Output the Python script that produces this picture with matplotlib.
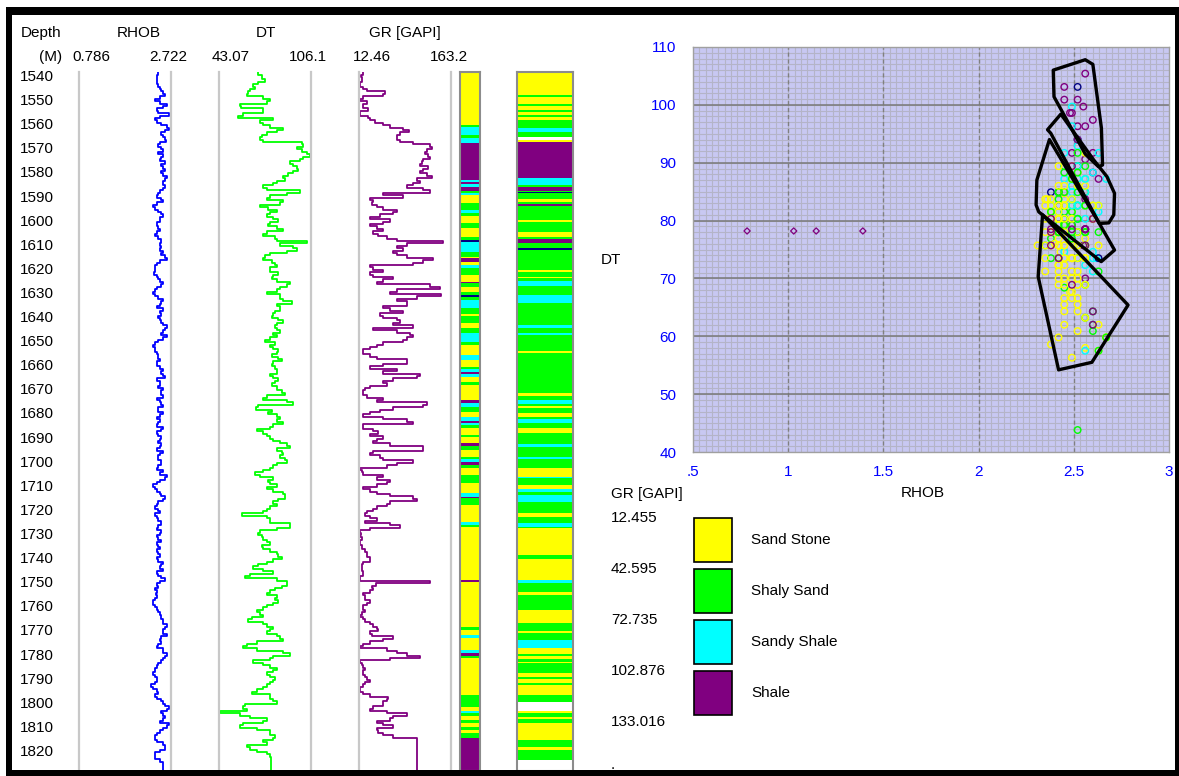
import numpy as np
import matplotlib
matplotlib.use("Agg")
import matplotlib.pyplot as plt
from matplotlib.patches import Rectangle, Polygon

plt.rcParams['font.family'] = ['Liberation Sans', 'DejaVu Sans']

# ---------------------------------------------------------------- log data
depth = np.arange(1538, 1829)          # 1 m samples, 1538 .. 1828 m

rhob = [2.45, 2.42, 2.42, 2.43, 2.42, 2.45, 2.48, 2.52, 2.56, 2.60,
        2.49, 2.38, 2.50, 2.63, 2.56, 2.42, 2.45, 2.67, 2.49, 2.38,
        2.42, 2.52, 2.63, 2.67, 2.60, 2.52, 2.56, 2.60, 2.62, 2.49,
        2.45, 2.52, 2.55, 2.45, 2.56, 2.52, 2.48, 2.60, 2.52, 2.56,
        2.60, 2.52, 2.56, 2.63, 2.60, 2.56, 2.56, 2.60, 2.55, 2.49,
        2.45, 2.42, 2.52, 2.56, 2.42, 2.35, 2.38, 2.45, 2.52, 2.56,
        2.49, 2.49, 2.42, 2.42, 2.45, 2.49, 2.42, 2.38, 2.45, 2.52,
        2.52, 2.49, 2.52, 2.49, 2.56, 2.52, 2.60, 2.63, 2.49, 2.42,
        2.38, 2.38, 2.38, 2.36, 2.42, 2.45, 2.49, 2.56, 2.52, 2.42,
        2.38, 2.35, 2.38, 2.45, 2.56, 2.52, 2.49, 2.42, 2.56, 2.49,
        2.52, 2.45, 2.49, 2.52, 2.56, 2.63, 2.60, 2.56, 2.52, 2.63,
        2.56, 2.45, 2.38, 2.35, 2.38, 2.38, 2.42, 2.45, 2.45, 2.49,
        2.42, 2.42, 2.49, 2.56, 2.52, 2.56, 2.60, 2.42, 2.49, 2.49,
        2.45, 2.56, 2.52, 2.52, 2.56, 2.42, 2.49, 2.52, 2.56, 2.45,
        2.45, 2.56, 2.49, 2.42, 2.49, 2.45, 2.42, 2.56, 2.52, 2.42,
        2.45, 2.52, 2.49, 2.45, 2.52, 2.49, 2.42, 2.56, 2.49, 2.45,
        2.45, 2.52, 2.52, 2.45, 2.42, 2.56, 2.49, 2.63, 2.60, 2.49,
        2.42, 2.35, 2.38, 2.42, 2.49, 2.52, 2.60, 2.56, 2.45, 2.42,
        2.38, 2.45, 2.49, 2.38, 2.42, 2.45, 2.52, 2.52, 2.45, 2.42,
        2.52, 2.49, 2.42, 2.45, 2.52, 2.42, 2.45, 2.49, 2.42, 2.45,
        2.49, 2.42, 2.45, 2.56, 2.52, 2.49, 2.56, 2.42, 2.45, 2.52,
        2.60, 2.49, 2.42, 2.45, 2.38, 2.42, 2.40, 2.42, 2.38, 2.35,
        2.35, 2.38, 2.42, 2.45, 2.49, 2.52, 2.52, 2.56, 2.56, 2.63,
        2.60, 2.56, 2.56, 2.63, 2.52, 2.49, 2.52, 2.45, 2.42, 2.56,
        2.56, 2.63, 2.60, 2.56, 2.52, 2.45, 2.42, 2.38, 2.38, 2.35,
        2.38, 2.42, 2.42, 2.38, 2.31, 2.35, 2.42, 2.45, 2.38, 2.42,
        2.52, 2.56, 2.60, 2.67, 2.63, 2.52, 2.56, 2.60, 2.56, 2.49,
        2.67, 2.63, 2.56, 2.49, 2.42, 2.38, 2.38, 2.42, 2.56, 2.60,
        2.60, 2.49, 2.38, 2.38, 2.38, 2.49, 2.56, 2.56, 2.56, 2.56,
        2.56]

dt = [70.0, 72.3, 72.3, 74.6, 70.0, 66.6, 67.7, 64.3, 63.2, 62.0,
      73.5, 78.0, 75.7, 57.5, 58.0, 73.5, 73.5, 59.8, 56.3, 80.3,
      71.2, 73.5, 78.0, 87.2, 82.6, 75.7, 72.3, 71.2, 73.5, 99.7,
      100.9, 96.3, 99.7, 103.1, 105.4, 100.9, 98.6, 91.7, 94.0, 96.3,
      97.4, 94.0, 90.6, 87.2, 88.3, 82.6, 80.3, 73.5, 75.7, 98.6,
      89.4, 78.0, 75.7, 87.2, 84.9, 71.2, 76.9, 82.6, 78.0, 75.7,
      80.3, 83.7, 78.0, 76.9, 82.6, 87.2, 75.7, 73.5, 81.5, 82.6,
      103.1, 84.9, 94.0, 96.3, 89.4, 78.0, 74.6, 73.5, 79.2, 81.5,
      82.6, 78.0, 78.0, 83.7, 80.3, 79.2, 82.6, 91.7, 89.4, 84.9,
      82.6, 75.7, 84.9, 84.9, 87.2, 92.9, 82.6, 84.9, 84.9, 81.5,
      80.3, 79.2, 83.7, 87.2, 82.6, 81.5, 82.6, 84.9, 80.3, 82.6,
      78.0, 74.6, 81.5, 78.0, 80.3, 83.7, 82.6, 79.2, 83.7, 86.0,
      80.3, 79.2, 81.5, 82.6, 82.6, 78.0, 80.3, 83.7, 81.5, 79.2,
      82.6, 82.6, 86.0, 88.3, 75.7, 73.5, 89.4, 94.0, 70.0, 68.4,
      79.2, 76.9, 82.6, 84.9, 82.6, 87.2, 80.3, 78.0, 68.9, 73.5,
      75.7, 78.0, 80.3, 84.9, 89.4, 91.7, 82.6, 86.0, 87.2, 84.9,
      88.3, 89.4, 82.6, 80.3, 78.0, 73.5, 67.7, 71.2, 80.3, 76.9,
      78.0, 82.6, 75.7, 80.3, 87.2, 88.3, 88.3, 83.7, 80.3, 82.6,
      78.0, 75.7, 73.5, 58.6, 75.7, 78.0, 78.0, 91.7, 91.7, 82.6,
      71.2, 70.0, 72.3, 73.5, 75.7, 78.0, 72.3, 73.5, 78.0, 82.6,
      83.7, 86.0, 80.3, 75.7, 70.0, 66.6, 73.5, 80.3, 64.3, 60.9,
      82.6, 89.4, 89.4, 86.0, 81.5, 78.0, 76.0, 82.6, 81.5, 83.7,
      80.3, 75.7, 73.5, 68.9, 71.2, 73.5, 65.5, 63.2, 73.5, 75.7,
      80.3, 78.0, 75.7, 82.6, 84.9, 87.2, 68.9, 62.0, 59.8, 68.9,
      87.2, 91.7, 80.3, 78.0, 66.6, 73.5, 78.0, 82.6, 80.3, 75.7,
      78.0, 81.5, 80.3, 78.0, 75.7, 73.5, 68.9, 65.5, 78.0, 78.0,
      80.3, 82.6, 60.9, 59.8, 62.0, 43.8, 57.5, 64.3, 75.7, 73.5,
      59.8, 57.5, 68.9, 78.0, 78.0, 81.5, 80.3, 73.5, 75.7, 62.0,
      64.3, 68.9, 75.7, 78.0, 78.5, 78.5, 78.5, 78.5, 78.5, 78.5,
      78.5]

gr = [19.5, 15.2, 16.8, 16.8, 14.1, 14.1, 19.5, 25.0, 55.0, 52.3,
      19.5, 14.1, 25.0, 19.5, 19.5, 27.7, 14.1, 14.1, 27.7, 30.5,
      38.6, 52.3, 63.2, 85.1, 95.0, 79.6, 74.2, 74.2, 79.6, 101.5,
      128.8, 131.5, 123.3, 120.6, 126.1, 128.8, 117.9, 115.1, 112.4, 126.1,
      117.9, 112.4, 123.3, 131.5, 106.9, 112.4, 101.5, 90.5, 117.9, 128.8,
      52.3, 85.1, 30.5, 35.9, 33.2, 41.4, 52.3, 74.2, 68.7, 46.9,
      30.5, 63.2, 52.3, 30.5, 41.4, 52.3, 35.9, 44.1, 57.8, 74.2,
      150.6, 90.5, 74.2, 85.1, 68.7, 74.2, 90.5, 134.2, 117.9, 101.5,
      30.5, 35.9, 52.3, 30.5, 35.9, 68.7, 52.3, 41.4, 128.8, 145.2,
      74.2, 63.2, 146.0, 106.9, 74.2, 90.5, 90.5, 52.3, 63.2, 85.1,
      46.9, 52.3, 74.2, 79.6, 68.7, 101.5, 35.9, 74.2, 96.0, 101.5,
      90.5, 85.1, 52.3, 41.4, 30.5, 19.5, 19.5, 30.5, 41.4, 90.5,
      90.5, 52.3, 30.5, 74.2, 52.3, 112.4, 106.9, 68.7, 52.3, 57.8,
      30.5, 22.3, 19.5, 19.5, 25.0, 52.3, 41.4, 123.3, 117.9, 68.7,
      46.9, 30.5, 19.5, 52.3, 90.5, 101.5, 19.5, 19.5, 35.9, 44.1,
      30.5, 52.3, 41.4, 35.9, 63.2, 117.9, 117.9, 35.9, 30.5, 46.9,
      52.3, 101.5, 74.2, 57.8, 14.1, 16.8, 19.5, 52.3, 41.4, 63.2,
      57.8, 41.4, 19.5, 30.5, 41.4, 63.2, 101.5, 106.9, 63.2, 57.8,
      41.4, 35.9, 25.0, 22.3, 30.5, 41.4, 22.3, 63.2, 79.6, 30.5,
      14.1, 15.2, 14.1, 16.8, 14.1, 14.1, 16.8, 16.8, 22.3, 25.0,
      25.0, 30.5, 30.5, 19.5, 16.8, 16.8, 16.8, 19.5, 19.5, 14.1,
      14.1, 128.8, 40.0, 33.2, 35.9, 30.5, 19.5, 22.3, 22.3, 30.5,
      25.0, 19.5, 19.5, 22.3, 16.8, 14.1, 19.5, 22.3, 30.5, 35.9,
      41.4, 44.1, 30.5, 33.2, 68.7, 52.3, 30.5, 19.5, 14.1, 57.8,
      74.2, 90.5, 112.4, 63.2, 14.1, 16.8, 19.5, 22.3, 19.5, 19.5,
      22.3, 25.0, 30.5, 22.3, 19.5, 14.1, 14.1, 19.5, 30.5, 60.5,
      57.8, 52.3, 52.3, 35.9, 30.5, 57.8, 90.5, 68.7, 63.2, 41.4,
      52.3, 68.7, 41.4, 44.1, 52.3, 68.7, 106.9, 106.9, 106.9, 106.9,
      106.9, 106.9, 106.9, 106.9, 106.9, 106.9, 106.9, 106.9, 106.9, 106.9,
      106.9]

# isolated low-density readings shown on the crossplot
odd_rhob = [0.784, 1.029, 1.147, 1.392]
odd_dt = [78.2, 78.2, 78.2, 78.2]

# ---------------------------------------------------------------- lithology
# Y sand stone, G shaly sand, C sandy shale, P shale, N above top cut-off, W no data
gr_lith_top = [1538.2, 1559.9, 1560.6, 1564.1, 1565.4, 1567.2, 1582.7, 1583.4, 1584.4, 1585.8,
               1587.2, 1588.3, 1589.0, 1592.4, 1595.2, 1596.6, 1597.7, 1600.7, 1602.8, 1606.2,
               1607.6, 1608.3, 1612.5, 1614.5, 1615.2, 1616.9, 1618.0, 1619.4, 1622.1, 1624.9,
               1625.6, 1627.0, 1629.0, 1630.4, 1631.1, 1632.5, 1635.9, 1638.3, 1639.0, 1642.2,
               1644.3, 1646.3, 1649.8, 1651.2, 1655.3, 1657.4, 1660.4, 1661.3, 1662.2, 1663.2,
               1664.3, 1666.4, 1667.8, 1674.0, 1675.4, 1676.7, 1678.8, 1680.9, 1682.6, 1683.4,
               1684.4, 1685.7, 1688.5, 1689.5, 1692.0, 1693.1, 1694.7, 1697.5, 1698.6, 1699.6,
               1700.9, 1702.3, 1705.1, 1708.6, 1712.7, 1714.1, 1714.8, 1717.5, 1724.5, 1725.8,
               1726.5, 1748.6, 1749.6, 1768.0, 1769.4, 1771.5, 1772.8, 1777.7, 1779.1, 1780.2,
               1781.1, 1796.4, 1801.2, 1802.9, 1803.7, 1805.1, 1806.7, 1808.1, 1809.5, 1810.9,
               1812.0, 1814.3]
gr_lith_code = "YGCGCPCPCPGCYGCGYGYGNCGYPYCGYPGYGNGCGYGYGCGYCYGCPCYGYPCGYCPCGYGYPGYGCPGYGYCPGYCGYPYGYCYCPGYGYCGYGYGYGP"

xp_lith_top = [1538.2, 1547.5, 1548.2, 1551.2, 1552.0, 1553.7, 1554.4, 1555.8, 1556.7, 1557.8,
               1561.3, 1562.7, 1564.8, 1566.1, 1566.8, 1582.0, 1584.8, 1585.5, 1587.2, 1587.6,
               1588.3, 1590.7, 1591.7, 1592.7, 1593.4, 1599.3, 1600.0, 1604.2, 1606.2, 1607.3,
               1609.0, 1611.1, 1611.8, 1620.1, 1620.8, 1622.8, 1623.5, 1624.5, 1626.7, 1630.4,
               1633.6, 1642.9, 1644.3, 1646.3, 1647.0, 1653.5, 1654.4, 1671.2, 1672.3, 1674.0,
               1675.6, 1676.5, 1677.4, 1679.5, 1680.9, 1682.0, 1683.7, 1685.7, 1687.8, 1692.2,
               1693.6, 1697.8, 1698.6, 1702.3, 1705.8, 1706.5, 1709.2, 1711.0, 1712.1, 1713.4,
               1716.2, 1721.0, 1722.4, 1724.9, 1726.5, 1727.2, 1738.3, 1740.1, 1748.6, 1749.8,
               1753.5, 1754.9, 1761.1, 1766.6, 1769.7, 1770.8, 1773.5, 1777.0, 1779.3, 1780.2,
               1781.6, 1782.5, 1783.2, 1787.4, 1788.7, 1789.9, 1791.2, 1792.2, 1796.4, 1799.1,
               1802.8, 1803.7, 1805.3, 1806.4, 1807.8, 1815.0, 1817.8, 1819.2, 1823.3]
xp_lith_code = "YGYGYGYGYGCGWYPCGPGNGYGPGYGYGPGNGYGYGCGCGCGCGYGYGCGYGYGCGYGCGCGYCGYCGCGYGCGYGYCGYGYGYGCYGYGYGYGYGYGWYGYGYGYG"

# GR class cut-offs (GAPI) and their names
gr_cuts = [12.455, 42.595, 72.735, 102.876, 133.016]
lith_names = ["Sand Stone", "Shaly Sand", "Sandy Shale", "Shale"]

# crossplot zone outlines (RHOB, DT)
zone_shale = [(2.392, 106.0), (2.560, 107.8), (2.600, 107.0), (2.645, 96.0), (2.651, 89.6),
              (2.630, 89.3), (2.560, 91.5), (2.458, 97.7), (2.396, 101.4)]
zone_sandy_shale = [(2.432, 98.4), (2.362, 95.7), (2.379, 95.1), (2.634, 79.5), (2.684, 79.6),
                    (2.710, 81.0), (2.714, 84.7), (2.674, 87.6), (2.604, 90.5)]
zone_shaly_sand = [(2.372, 94.0), (2.306, 87.0), (2.302, 82.7), (2.316, 81.5), (2.644, 72.9),
                   (2.714, 74.9), (2.634, 79.5)]
zone_sand = [(2.336, 81.0), (2.313, 70.3), (2.420, 54.2), (2.595, 55.5), (2.785, 65.4)]

# ---------------------------------------------------------------- styling
W, H = 1179, 776
fig = plt.figure(figsize=(W / 100, H / 100), dpi=100)
FS = 11

lith_colors = {'Y': '#FFFF00', 'G': '#00FF00', 'C': '#00FFFF', 'P': '#800080',
               'N': '#000080', 'W': '#FFFFFF'}
class_colors = ['#FFFF00', '#00FF00', '#00FFFF', '#800080', '#000080']


def px_axes(left, top, right, bottom):
    return fig.add_axes([left / W, 1 - bottom / H, (right - left) / W, (bottom - top) / H])


# depth scale: 2.4107 px per metre, 1540 m at pixel row 77
D_TOP = 1540 + (72 - 77) / 2.4107
D_BOT = 1540 + (771 - 77) / 2.4107


def log_track(left, right, lo, hi, values, color):
    ax = px_axes(left, 72, right, 771)
    ax.plot(values, depth, drawstyle='steps-pre', color=color, lw=1.3)
    ax.set_xlim(lo, hi)
    ax.set_ylim(D_BOT, D_TOP)
    ax.set_xticks([])
    ax.set_yticks([])
    for s in ('top', 'bottom'):
        ax.spines[s].set_visible(False)
    for s in ('left', 'right'):
        ax.spines[s].set_color('#C8C8C8')
        ax.spines[s].set_linewidth(1.6)
    return ax


log_track(79, 171, 0.786, 2.722, rhob, '#0000FF')
log_track(219, 311, 43.07, 106.1, dt, '#00FF00')
log_track(359, 451, 12.46, 163.2, gr, '#800080')


def lith_column(left, right, tops, codes):
    ax = px_axes(left, 72, right, 771)
    bottoms = list(tops[1:]) + [D_BOT + 5]
    for t, b, c in zip(tops, bottoms, codes):
        ax.axhspan(t, b, color=lith_colors[c], lw=0)
    ax.set_xlim(0, 1)
    ax.set_ylim(D_BOT, D_TOP)
    ax.set_xticks([])
    ax.set_yticks([])
    for s in ax.spines.values():
        s.set_color('#8C8C8C')
        s.set_linewidth(1.5)
    return ax


lith_column(460, 480, gr_lith_top, gr_lith_code)
lith_column(517, 573, xp_lith_top, xp_lith_code)

# depth labels
dax = px_axes(15, 72, 76, 771)
dax.set_xlim(0, 1)
dax.set_ylim(D_BOT, D_TOP)
dax.axis('off')
for d in range(1540, 1840, 10):
    dax.text(0.08, d, str(d), fontsize=FS, va='center', ha='left', clip_on=False)

# ---------------------------------------------------------------- crossplot
xp = px_axes(693, 47, 1169, 452)
xp.set_facecolor('#C8C8F2')
xp.set_xlim(0.5, 3.0)
xp.set_ylim(40, 110)
for v in np.arange(0.5, 3.0, 0.5 / 15):
    xp.axvline(v, color='#B4B4C8', lw=0.8, zorder=0.5)
for v in range(40, 111):
    xp.axhline(v, color='#B4B4C8', lw=0.8, zorder=0.5)
for v in [1.0, 1.5, 2.0, 2.5]:
    xp.axvline(v, color='#808080', lw=1.0, ls=(0, (3, 2)), zorder=0.6)
for v in range(50, 110, 10):
    xp.axhline(v, color='#787878', lw=1.1, zorder=0.6)
xp.set_xticks([0.5, 1.0, 1.5, 2.0, 2.5, 3.0])
xp.set_xticklabels(['.5', '1', '1.5', '2', '2.5', '3'])
xp.set_yticks(range(40, 111, 10))
xp.tick_params(length=0, labelsize=FS, labelcolor='#0000FF')
xp.tick_params(axis='x', pad=9)
xp.tick_params(axis='y', pad=12)
for s in xp.spines.values():
    s.set_color('#A0A0A0')
    s.set_linewidth(1.0)

gr_arr = np.asarray(gr)
cls = np.digitize(gr_arr, gr_cuts[1:])
xp.scatter(rhob, dt, s=22, facecolors='none',
           edgecolors=[class_colors[c] for c in cls], linewidths=1.0, zorder=3)
xp.scatter(odd_rhob, odd_dt, s=10, marker='D', facecolors='none',
           edgecolors='#800080', linewidths=0.9, zorder=3)
for zone in (zone_shale, zone_sandy_shale, zone_shaly_sand, zone_sand):
    xp.add_patch(Polygon(zone, closed=True, fill=False, ec='black', lw=2.4,
                         joinstyle='round', zorder=4))

# ---------------------------------------------------------------- overlay (pixel coordinates)
ov = fig.add_axes([0, 0, 1, 1])
ov.set_xlim(0, W)
ov.set_ylim(H, 0)
ov.axis('off')

ov.text(21, 33, "Depth", fontsize=FS, va='center', ha='left')
ov.text(139, 33, "RHOB", fontsize=FS, va='center', ha='center')
ov.text(266, 33, "DT", fontsize=FS, va='center', ha='center')
ov.text(405, 33, "GR [GAPI]", fontsize=FS, va='center', ha='center')
ov.text(62, 57, "(M)", fontsize=FS, va='center', ha='right')
for x, s in [(91, "0.786"), (168, "2.722"), (231, "43.07"), (308, "106.1"),
             (372, "12.46"), (449, "163.2")]:
    ov.text(x, 57, s, fontsize=FS, va='center', ha='center')

ov.text(601, 260, "DT", fontsize=FS, va='center', ha='left')
ov.text(923, 493, "RHOB", fontsize=FS, va='center', ha='center')

# GR class legend
ov.text(611, 494, "GR [GAPI]", fontsize=FS, va='center', ha='left')
for i, v in enumerate(gr_cuts):
    ov.text(611, 518 + 51 * i, f"{v:.3f}", fontsize=FS, va='center', ha='left')
ov.text(611, 765, ".", fontsize=FS, va='center', ha='left')
for i, name in enumerate(lith_names):
    top = 518 + 51 * i
    ov.add_patch(Rectangle((694, top), 38, 44, facecolor=class_colors[i],
                           edgecolor='black', lw=1.2))
    ov.text(751, top + 22, name, fontsize=FS, va='center', ha='left')

# window frame
for x, y, w, h in [(6, 7, W - 6, 8), (6, 7, 6, H - 7), (6, 770, W - 6, 6), (1175, 7, 4, H - 7)]:
    ov.add_patch(Rectangle((x, y), w, h, facecolor='black', edgecolor='none', zorder=10))

fig.savefig("out.png", dpi=100)
